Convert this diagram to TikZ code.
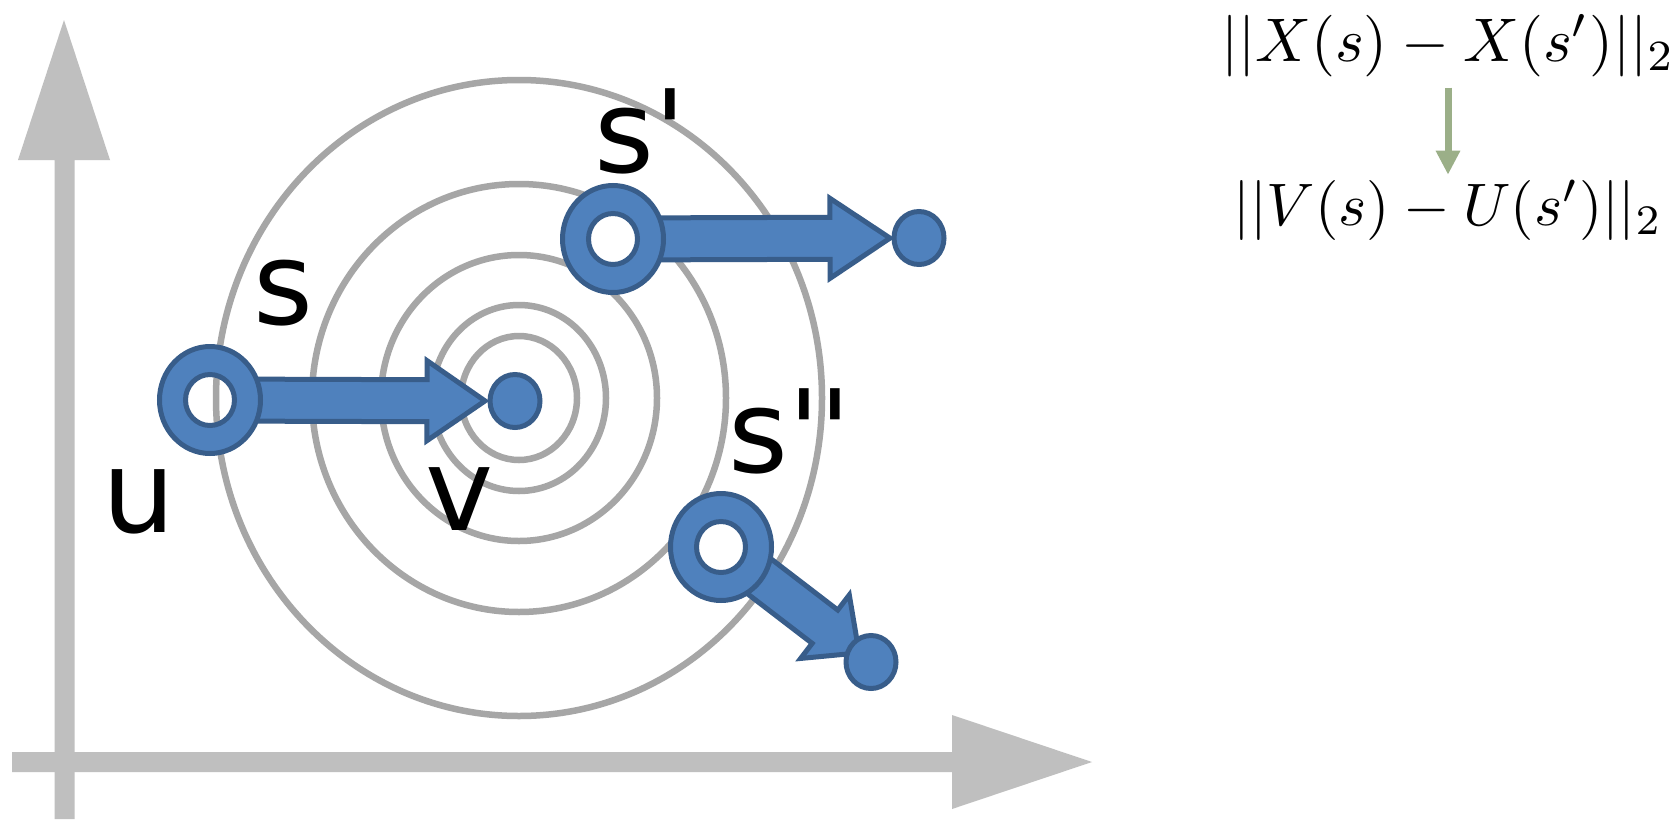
\documentclass[tikz,border=0pt]{standalone}
\usepackage{fontspec}
\newfontfamily\lab{DejaVu Sans}[Ligatures=TeXOff]
\usetikzlibrary{calc,arrows.meta}
\definecolor{axisgray}{RGB}{191,191,191}
\definecolor{ringgray}{RGB}{166,166,166}
\definecolor{bfill}{RGB}{79,129,189}
\definecolor{bline}{RGB}{56,93,138}
\definecolor{sage}{RGB}{155,175,136}
\tikzset{
  axisshape/.style={fill=axisgray, draw=none},
  contour/.style={draw=ringgray, line width=6.5pt},
  bshape/.style={fill=bfill, draw=bline, line width=5pt, line join=miter},
  lbl/.style={font=\lab\fontsize{115}{120}\selectfont, inner sep=0pt, anchor=base},
  fml/.style={inner sep=0pt, anchor=base},
  garrow/.style={draw=sage, line width=7pt, -{Triangle[length=24pt,width=23pt]}},
}
\newcommand{\blockarrow}[4]{%
  \coordinate (hb) at ($(#1)!#3!(#2)$);
  \coordinate (tp) at ($(#1)!#4!(#2)$);
  \coordinate (st) at ($(#1)!37pt!(#2)$);
  \path[bshape] ($(st)!21pt!90:(#2)$) -- ($(hb)!21pt!90:(#2)$) -- ($(hb)!40pt!90:(#2)$)
    -- (tp) -- ($(hb)!40pt!-90:(#2)$) -- ($(hb)!21pt!-90:(#2)$) -- ($(st)!21pt!-90:(#2)$) -- cycle;}
\newcommand{\donut}[1]{%
  \path[fill=bfill, even odd rule] (#1) ellipse [x radius=50.5pt, y radius=53.5pt]
    (#1) ellipse [x radius=24.5pt, y radius=25.5pt];
  \draw[bline, line width=5pt] (#1) ellipse [x radius=50.5pt, y radius=53.5pt];
  \draw[bline, line width=5pt] (#1) ellipse [x radius=24.5pt, y radius=25.5pt];}
\newcommand{\bdot}[1]{%
  \path[bshape] (#1) ellipse [x radius=25pt, y radius=26.5pt];}
\begin{document}
\begin{tikzpicture}[x=1pt, y=-1pt]
\fill[white] (0,0) rectangle (1678,819);
\useasboundingbox (0,0) rectangle (1678,819);
% axes
\path[axisshape] (54.5,819) -- (54.5,160) -- (18,160) -- (64,20) -- (110,160) -- (74.5,160) -- (74.5,819) -- cycle;
\path[axisshape] (12,752) -- (952,752) -- (952,715) -- (1092,762) -- (952,809) -- (952,772) -- (12,772) -- cycle;
% contour rings
\coordinate (c) at (519,398);
\draw[contour] (c) ellipse [x radius=303pt, y radius=318pt];
\draw[contour] (c) ellipse [x radius=207pt, y radius=214pt];
\draw[contour] (c) ellipse [x radius=138pt, y radius=143pt];
\draw[contour] (c) ellipse [x radius=87pt, y radius=93pt];
\draw[contour] (c) ellipse [x radius=58pt, y radius=62pt];
% points
\coordinate (u) at (210,400);
\coordinate (v) at (515,401);
\coordinate (sp) at (613,239);
\coordinate (spd) at (919,238);
\coordinate (spp) at (721,547);
\coordinate (sppd) at (871,662);
\blockarrow{u}{v}{217pt}{275pt}
\blockarrow{sp}{spd}{217pt}{277pt}
\blockarrow{spp}{sppd}{131pt}{174pt}
\donut{u}
\donut{sp}
\donut{spp}
\bdot{v}
\bdot{spd}
\bdot{sppd}
% labels
\node[lbl] (ls) at (283.5,324) {s};
\node[lbl] (lu) at (139,532) {u};
\node[lbl] (lv) at (460,530) {v};
\node[lbl] (lsp) at (640,172) {s'};
\node[lbl] (lspp) at (790,472) {s''};
% formulas
\node[fml] (f1) at (1448,61) {\scalebox{6.16}{$||X(s)-X(s')||_2$}};
\node[fml] (f2) at (1448,225) {\scalebox{6.0}{$||V(s)-U(s')||_2$}};
\coordinate (gtip) at (f1.south |- f2.north);
\draw[garrow] ([yshift=-11pt]f1.south) -- ([yshift=5pt]gtip);
\end{tikzpicture}
\end{document}
